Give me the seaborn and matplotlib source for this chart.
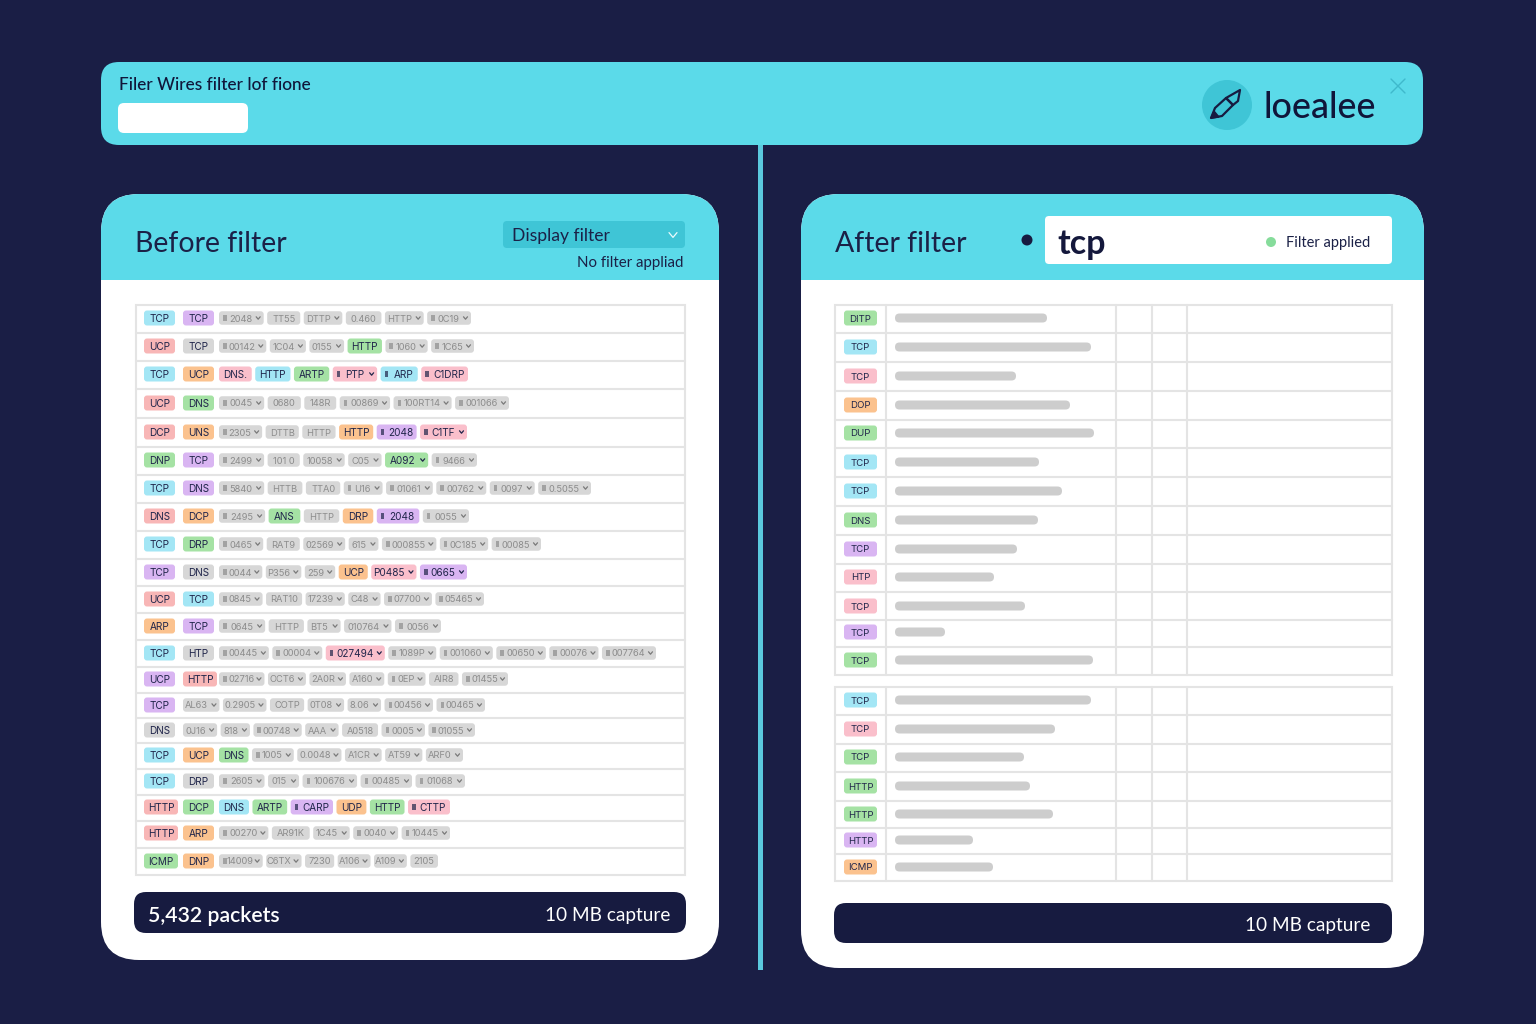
import numpy as np
import matplotlib
matplotlib.use("Agg")
import matplotlib.pyplot as plt
from matplotlib.patches import FancyBboxPatch, Circle, Rectangle, Polygon
from matplotlib.textpath import TextPath
from matplotlib.font_manager import FontProperties
import seaborn as sns

# ---------- data ----------
BEFORE_LABELS = [
    ["TCP","TCP","#2048~","TT55","DTTP~","0.460","HTTP~","#0C19~"],
    ["UCP","TCP","#00142~","1C04~","0155~","HTTP","#1060~","#1C65~"],
    ["TCP","UCP","DNS.","HTTP","ARTP","#PTP~","#ARP","#C1DRP"],
    ["UCP","DNS","#0045~","0680","148R","#00869~","#100RT14~","#001066~"],
    ["DCP","UNS","#2305~","DTTB","HTTP","HTTP","#2048","#C1TF~"],
    ["DNP","TCP","#2499~","101 0","10058~","C05~","A092~","#9466~"],
    ["TCP","DNS","#5840~","HTTB","TTA0","#U16~","#01061~","#00762~","#0097~","#0.5055~"],
    ["DNS","DCP","#2495~","ANS","HTTP","DRP","#2048","#0055~"],
    ["TCP","DRP","#0465~","RAT9","02569~","615~","#000855~","#0C185~","#00085~"],
    ["TCP","DNS","#0044~","P356~","259~","UCP","P0485~","#0665~"],
    ["UCP","TCP","#0845~","RAT10","17239~","C48~","#07700~","#05465~"],
    ["ARP","TCP","#0645~","HTTP","BT5~","010764~","#0056~"],
    ["TCP","HTP","#00445~","#00004~","#027494~","#1089P~","#001060~","#00650~","#00076~","#007764~"],
    ["UCP","HTTP","#02716~","OCT6~","2A0R~","A160~","#0EP~","AIR8","#01455~"],
    ["TCP","AL63~","0.2905~","COTP","0T08~","8.06~","#00456~","#00465~"],
    ["DNS","0J16~","818~","#00748~","AAA~","A0518","#0005~","#01055~"],
    ["TCP","UCP","DNS","#1005~","0.0048~","A1CR~","AT59~","ARF0~"],
    ["TCP","DRP","#2605~","015~","#100676~","#00485~","#01068~"],
    ["HTTP","DCP","DNS","ARTP","#CARP","UDP","HTTP","#CTTP"],
    ["HTTP","ARP","#00270~","AR91K","1C45~","#0040~","#10445~"],
    ["ICMP","DNP","#14009~","C6TX~","7230","A106~","A109~","2105"],
]
BEFORE_KINDS = [
    "cvnnnnnn","rnnnngnn","copcgpcp","rgnnnnnn","ronnnovp",
    "gvnnnngn","cvnnnnnnnn","rongnovn","cgnnnnnnn","vnnnnopv",
    "rcnnnnnn","ovnnnnn","cnnnpnnnnn","vrnnnnnnn","vnnnnnnn",
    "nnnnnnnn","cognnnnn","cnnnnnn","rgcgvogp","ronnnnn","gonnnnnn",
]
AFTER_TOP_LABELS = ["DITP","TCP","TCP","DOP","DUP","TCP","TCP","DNS","TCP","HTP","TCP","TCP","TCP"]
AFTER_TOP_KINDS = "gcpogccgvppvg"
AFTER_TOP_LENGTHS = [152,196,121,175,199,144,167,143,122,99,130,50,198]
AFTER_BOTTOM_LABELS = ["TCP","TCP","TCP","HTTP","HTTP","HTTP","ICMP"]
AFTER_BOTTOM_KINDS = "cpgggvo"
AFTER_BOTTOM_LENGTHS = [196,160,129,135,158,78,98]

# ---------- layout / style (separate from the data) ----------
BEFORE_ROW_Y = [318,346,374,403,432,460,488,516,544,572,599,626,653,679,705,730,755,781,807,833,861]
BEFORE_ROW_END = [471,474,468,509,467,477,591,469,541,467,484,441,656,508,485,475,463,465,450,450,438]
AFTER_TOP_Y = [318,347,376,405,433,462,491,520,549,577,606,632,660]
AFTER_BOTTOM_Y = [700,729,757,786,814,840,867]
BG = "#1A1E45"; CYAN = "#5BDAE9"; TEAL = "#3FC5D6"; DARK = "#171B40"
LINE = "#E4E4E4"; BAR = "#CDCDCD"; GREY_TEXT = "#8C8C8C"; INK = "#20254A"
KIND_COLOR = dict(c="#A3E6F5", v="#D9B5F2", r="#F8B6B6", p="#FABFCB", o="#FBC28E",
                  g="#A5E2A4", n="#D7D7D7")
HEAD_FONT = "Lato"
CHIP_FONT = "Inter"

sns.set_theme(style="white", rc={"figure.facecolor": BG, "axes.facecolor": "none"})
plt.rcParams["font.family"] = [HEAD_FONT, "DejaVu Sans"]

fig = plt.figure(figsize=(15.36, 10.24), dpi=100, facecolor=BG)
ax = fig.add_axes([0, 0, 1, 1])
ax.set_xlim(0, 1536); ax.set_ylim(1024, 0); ax.axis("off")
PX = 72 / 100


def rbox(x0, y0, x1, y1, r, color, z=1, target=None, **kw):
    p = FancyBboxPatch((x0 + r, y0 + r), x1 - x0 - 2 * r, y1 - y0 - 2 * r,
                       boxstyle=f"round,pad={r},rounding_size={r}",
                       fc=color, ec="none", zorder=z, **kw)
    (target or ax).add_patch(p)
    return p


def txt(x, y, s, px, color=INK, ha="left", weight="normal", z=8, family=HEAD_FONT):
    ax.text(x, y, s, fontsize=px * PX, color=color, ha=ha, va="center_baseline",
            weight=weight, zorder=z, family=[family, "DejaVu Sans"])


def text_w(s, px):
    if not s:
        return 0
    return TextPath((0, 0), s, size=px, prop=FontProperties(family=CHIP_FONT)).get_extents().width


def chevron(x, y, color, s=2.0):
    ax.plot([x - s, x, x + s], [y - s * 0.6, y + s * 0.6, y - s * 0.6], color=color, lw=0.9,
            solid_capstyle="round", zorder=8)


def chip(x0, x1, yc, label, kind, px=None, h=None, dark=False):
    icon = label.startswith("#")
    drop = label.endswith("~")
    s = label.strip("#~")
    grey = kind == "n" and not dark
    fg = GREY_TEXT if grey else INK
    px = px or (9.3 if grey else 10)
    h = h or (13.5 if kind == "n" else 15)
    rbox(x0, yc - h / 2, x1, yc + h / 2, 3, KIND_COLOR[kind], z=5)
    left = x0 + (4 if icon else 0)
    right = x1 - (9 if drop else 0)
    if icon:
        ax.add_patch(Rectangle((x0 + 4, yc - 2.8), 3.6, 5.6, fc=fg, ec="none", alpha=.7, zorder=8))
        left = x0 + 8
    txt((left + right) / 2, yc, s, px, fg, "center", z=8, family=CHIP_FONT)
    if drop:
        chevron(x1 - 5.5, yc, fg if not grey else "#7A7A7A")


# ---------- banner & divider ----------
ax.add_patch(Rectangle((758, 140), 4.5, 830, fc="#5BC9DE", ec="none", zorder=1))
rbox(101, 62, 1423, 145, 18, CYAN, z=2)
txt(119, 83, "Filer Wires filter lof fione", 17.2, "#10163A", weight="medium")
rbox(118, 103, 248, 133, 6, "white", z=3)
ax.add_patch(Circle((1227, 105), 25, fc=TEAL, ec="none", zorder=3))
ax.add_patch(Polygon([(1211, 118), (1215, 108), (1226, 98), (1233, 105), (1222, 116)],
                     closed=True, fc="none", ec=DARK, lw=1.6, joinstyle="round", zorder=4))
ax.add_patch(Polygon([(1226, 98), (1240, 90), (1238, 101), (1233, 105)],
                     closed=True, fc="none", ec=DARK, lw=1.6, joinstyle="round", zorder=4))
ax.add_patch(Polygon([(1211, 118), (1214, 111), (1219, 117)], closed=True, fc=DARK, ec=DARK, zorder=4))
txt(1263, 105, "loealee", 36, "#10163A", weight="medium")
ax.plot([1391, 1405], [79, 93], color="#3FB9CC", lw=1, zorder=4)
ax.plot([1391, 1405], [93, 79], color="#3FB9CC", lw=1, zorder=4)

# ---------- panels ----------
for x0, x1, y1 in [(101, 719, 960), (801, 1424, 968)]:
    rbox(x0, 194, x1, y1, 38, "white", z=2)
    hdr = rbox(x0, 194, x1, y1, 38, CYAN, z=3)
    hdr.set_clip_path(Rectangle((x0, 194), x1 - x0, 85.5, transform=ax.transData))

txt(135, 241, "Before filter", 28.5, "#1B2147")
rbox(503, 221, 685, 248, 4, TEAL, z=4)
txt(512, 234.5, "Display filter", 17.5, "#1B2147")
chevron(673, 235, "#EAFBFD", s=4)
txt(683, 261, "No filter appliad", 15, "#1B2147", "right")

txt(835, 241, "After filter", 28.5, "#1B2147")
ax.add_patch(Circle((1027, 240), 5.5, fc=DARK, ec="none", zorder=4))
rbox(1045, 216, 1392, 264, 4, "white", z=4)
txt(1057, 241, "tcp", 34, "#14183C", weight="bold")
ax.add_patch(Circle((1271, 242), 5, fc="#86DC9B", ec="none", zorder=5))
txt(1286, 242, "Filter applied", 14.6, "#1B2147")

# ---------- before table ----------
ax.add_patch(Rectangle((136, 305), 549, 570, fc="white", ec=LINE, lw=1.5, zorder=4))
for a, b in zip(BEFORE_ROW_Y[:-1], BEFORE_ROW_Y[1:]):
    ax.plot([136, 685], [(a + b) / 2 + .5] * 2, color=LINE, lw=1.5, zorder=4)

GAP = 3.5
for labels, kinds, yc, end in zip(BEFORE_LABELS, BEFORE_KINDS, BEFORE_ROW_Y, BEFORE_ROW_END):
    lead = 1 if labels[1].endswith("~") else 2
    starts = [144, 183]
    for i in range(lead):
        lab = labels[i]
        chip(starts[i], starts[i] + (34 if len(lab) == 4 else 31), yc, lab, kinds[i], h=15, dark=True)
    x = starts[1] if lead == 1 else 219
    rest, rk = labels[lead:], kinds[lead:]
    base = []
    for lab, k in zip(rest, rk):
        w = text_w(lab.strip("#~"), 9.3) + 10
        if lab.startswith("#"):
            w += 8
        if lab.endswith("~"):
            w += 9
        if k != "n":
            w += 5
        elif not lab.startswith("#") and not lab.endswith("~"):
            w += 4
        base.append(w)
    factor = (end - x - GAP * (len(rest) - 1)) / sum(base)
    for lab, k, w in zip(rest, rk, base):
        chip(x, x + w * factor, yc, lab, k)
        x += w * factor + GAP

rbox(134, 892, 686, 933, 12, DARK, z=4)
txt(148, 913.5, "5,432 packets", 21.3, "white", weight="semibold")
txt(670, 913.5, "10 MB capture", 19, "white", "right")

# ---------- after table ----------
for y0, y1, ys, labs, kinds in [(305, 675, AFTER_TOP_Y, AFTER_TOP_LABELS, AFTER_TOP_KINDS),
                                (687, 881, AFTER_BOTTOM_Y, AFTER_BOTTOM_LABELS, AFTER_BOTTOM_KINDS)]:
    ax.add_patch(Rectangle((835, y0), 557, y1 - y0, fc="white", ec=LINE, lw=1.5, zorder=4))
    for xv in (886, 1116, 1152, 1187):
        ax.plot([xv, xv], [y0, y1], color=LINE, lw=1.5, zorder=4)
    for a, b in zip(ys[:-1], ys[1:]):
        ax.plot([835, 1392], [(a + b) / 2 + .5] * 2, color=LINE, lw=1.5, zorder=4)
    for yc, lab, k in zip(ys, labs, kinds):
        chip(844, 877, yc, lab, k, px=9.6, h=15)


def bars(lengths, ys, y0, y1):
    # an overlay axes scaled 1:1 with the pixel grid
    bx = fig.add_axes([895 / 1536, 1 - y1 / 1024, 220 / 1536, (y1 - y0) / 1024], zorder=5)
    sns.barplot(x=lengths, y=ys, orient="h", native_scale=True, color=BAR, saturation=1,
                width=9 / 26, ax=bx, legend=False)
    bx.set_xlim(0, 220); bx.set_ylim(y1, y0); bx.axis("off")
    for p in list(bx.patches):
        x, y, w, h = p.get_x(), p.get_y(), p.get_width(), p.get_height()
        p.remove()
        y, h = min(y, y + h), abs(h)
        rbox(x, y, x + w, y + h, h / 2 - .01, BAR, z=6, target=bx)


bars(AFTER_TOP_LENGTHS, AFTER_TOP_Y, 305, 675)
bars(AFTER_BOTTOM_LENGTHS, AFTER_BOTTOM_Y, 687, 881)

rbox(834, 903, 1392, 943, 12, DARK, z=4)
txt(1370, 923.5, "10 MB capture", 19, "white", "right")

fig.savefig("out.png", dpi=100, facecolor=BG)
